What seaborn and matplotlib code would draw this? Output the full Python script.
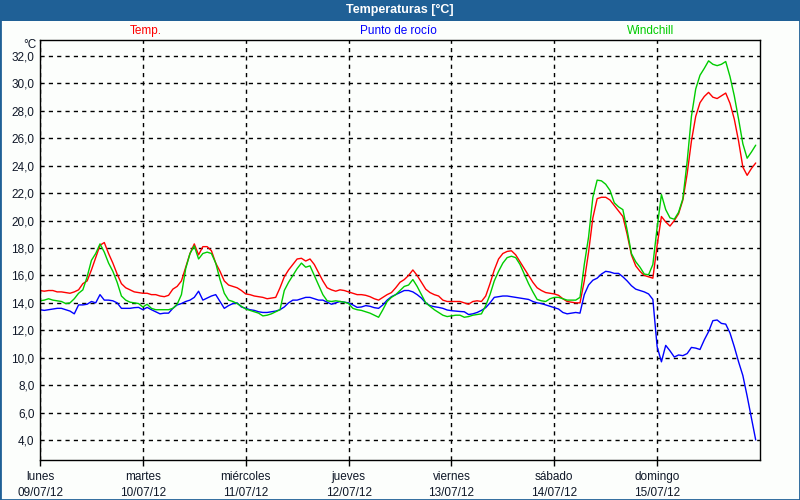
import numpy as np
import pandas as pd
import matplotlib
matplotlib.use("Agg")
import matplotlib.pyplot as plt
from matplotlib.patches import Rectangle
from matplotlib.ticker import FuncFormatter
import seaborn as sns

# datos horarios, lunes 09/07/12 00:00 -> domingo 15/07/12 23:00
temp = [
    14.9, 14.85, 14.9, 14.9, 14.8, 14.8, 14.75, 14.7, 14.8, 14.95, 15.4, 15.6,
    16.4, 17.3, 18.2, 18.4, 17.6, 16.9, 16.1, 15.4, 15.1, 14.95, 14.8, 14.75,
    14.7, 14.7, 14.6, 14.6, 14.5, 14.45, 14.55, 15.0, 15.2, 15.6, 16.6, 17.6,
    18.3, 17.5, 18.1, 18.1, 17.8, 16.9, 16.3, 15.6, 15.3, 15.2, 15.1, 14.9,
    14.65, 14.6, 14.5, 14.45, 14.4, 14.3, 14.35, 14.4, 15.1, 15.9, 16.4, 16.8,
    17.2, 17.25, 17.05, 17.2, 16.8, 16.2, 15.6, 15.1, 14.95, 14.85, 14.95, 14.9,
    14.8, 14.7, 14.6, 14.6, 14.55, 14.45, 14.3, 14.2, 14.4, 14.6, 14.75, 15.1,
    15.5, 15.7, 16.0, 16.4, 16.0, 15.5, 15.0, 14.75, 14.6, 14.5, 14.2, 14.1,
    14.1, 14.1, 14.1, 14.0, 13.9, 14.1, 14.15, 14.1, 14.5, 15.4, 16.4, 17.2,
    17.6, 17.75, 17.8, 17.5, 17.0, 16.5, 16.0, 15.5, 15.1, 14.9, 14.75, 14.7,
    14.65, 14.55, 14.3, 14.1, 14.05, 14.0, 14.0, 15.6, 17.7, 20.2, 21.6, 21.7,
    21.7, 21.5, 21.1, 20.7, 20.3, 19.0, 17.5, 16.7, 16.3, 16.0, 15.9, 15.8,
    18.2, 20.3, 19.9, 19.6, 20.0, 20.5, 21.5, 23.4, 25.8, 27.6, 28.6, 29.05,
    29.35, 29.0, 28.9, 29.1, 29.3, 28.55, 27.4, 25.8, 23.9, 23.3, 23.8, 24.2,
]

rocio = [
    13.5, 13.45, 13.5, 13.55, 13.6, 13.6, 13.5, 13.4, 13.2, 13.85, 13.85, 13.9,
    14.1, 14.0, 14.6, 14.2, 14.2, 14.15, 14.0, 13.6, 13.6, 13.6, 13.65, 13.67,
    13.5, 13.67, 13.5, 13.35, 13.2, 13.25, 13.25, 13.6, 13.85, 13.95, 14.1, 14.2,
    14.4, 14.85, 14.2, 14.35, 14.5, 14.6, 14.1, 13.6, 13.8, 13.95, 14.0, 13.7,
    13.6, 13.5, 13.45, 13.35, 13.3, 13.3, 13.35, 13.4, 13.5, 13.7, 14.0, 14.2,
    14.2, 14.3, 14.4, 14.4, 14.3, 14.2, 14.2, 14.05, 13.9, 14.0, 14.1, 14.05,
    14.0, 13.85, 13.67, 13.7, 13.8, 13.75, 13.65, 13.6, 13.85, 14.2, 14.45, 14.6,
    14.75, 14.9, 14.9, 14.8, 14.6, 14.35, 14.0, 13.8, 13.72, 13.67, 13.6, 13.48,
    13.43, 13.4, 13.37, 13.35, 13.15, 13.2, 13.3, 13.45, 13.65, 14.0, 14.4, 14.45,
    14.5, 14.5, 14.45, 14.4, 14.35, 14.3, 14.25, 14.1, 14.0, 13.95, 13.85, 13.75,
    13.65, 13.55, 13.3, 13.2, 13.25, 13.3, 13.25, 14.6, 15.3, 15.65, 15.8, 16.1,
    16.3, 16.25, 16.15, 16.15, 15.9, 15.6, 15.25, 15.0, 14.9, 14.8, 14.65, 14.25,
    10.8, 9.7, 10.9, 10.5, 10.05, 10.2, 10.15, 10.3, 10.75, 10.7, 10.6, 11.3,
    11.9, 12.7, 12.75, 12.5, 12.45, 11.8, 10.8, 9.7, 8.7, 7.2, 5.6, 4.0,
]

windchill = [
    14.15, 14.2, 14.3, 14.2, 14.15, 14.1, 13.95, 14.0, 14.3, 14.7, 14.95, 15.9,
    17.1, 17.6, 18.3, 17.7, 16.9, 16.3, 15.5, 14.5, 14.2, 14.05, 14.0, 13.95,
    13.7, 13.9, 13.6, 13.5, 13.5, 13.5, 13.5, 13.6, 13.9, 14.6, 16.5, 17.6,
    18.15, 17.2, 17.6, 17.7, 17.6, 16.9, 15.7, 14.7, 14.2, 14.1, 13.95, 13.75,
    13.55, 13.45, 13.35, 13.25, 13.05, 13.1, 13.2, 13.35, 13.5, 14.9, 15.5, 16.0,
    16.5, 16.9, 16.6, 16.7, 16.0, 15.3, 14.6, 14.15, 14.1, 14.15, 14.1, 14.05,
    13.95, 13.6, 13.5, 13.45, 13.35, 13.25, 13.1, 12.95, 13.5, 14.1, 14.4, 14.6,
    14.9, 15.2, 15.3, 15.7, 15.2, 14.6, 14.0, 13.75, 13.5, 13.3, 13.1, 13.0,
    13.05, 13.1, 13.1, 12.95, 13.0, 13.1, 13.15, 13.2, 13.8, 14.6, 15.6, 16.3,
    16.9, 17.3, 17.4, 17.3, 16.8, 16.1, 15.4, 14.8, 14.25, 14.15, 14.1, 14.3,
    14.4, 14.4, 14.3, 14.2, 14.2, 14.2, 14.4, 16.8, 18.8, 21.7, 22.95, 22.9,
    22.65, 22.2, 21.3, 21.0, 20.8, 19.3, 17.6, 17.0, 16.6, 16.1, 16.05, 16.8,
    19.5, 21.9, 20.8, 20.2, 20.1, 20.6, 21.6, 24.3, 27.6, 29.6, 30.6, 31.1,
    31.65, 31.4, 31.3, 31.4, 31.6, 30.5, 29.1, 27.4, 25.6, 24.55, 25.0, 25.5,
]

dias = ["lunes", "martes", "miércoles", "jueves", "viernes", "sábado", "domingo"]
fechas = ["09/07/12", "10/07/12", "11/07/12", "12/07/12", "13/07/12", "14/07/12", "15/07/12"]
series = ["Temp.", "Punto de rocío", "Windchill"]
colores = {"Temp.": "#ff0000", "Punto de rocío": "#0000ff", "Windchill": "#00cc00"}

horas = np.arange(len(temp))
df = pd.concat([
    pd.DataFrame({"hora": horas, "valor": temp, "serie": "Temp."}),
    pd.DataFrame({"hora": horas, "valor": rocio, "serie": "Punto de rocío"}),
    pd.DataFrame({"hora": horas, "valor": windchill, "serie": "Windchill"}),
])

sns.set_style("white")
plt.rcParams["font.family"] = ["Liberation Sans", "DejaVu Sans"]

fondo = "#fcfefc"
azul = "#1f6096"
texto = "#101828"
fig = plt.figure(figsize=(8, 5), dpi=100, facecolor=fondo)
ax = fig.add_axes([40 / 800, 40 / 500, 720 / 800, 420 / 500])
ax.set_facecolor(fondo)

sns.lineplot(data=df, x="hora", y="valor", hue="serie", hue_order=series,
             palette=colores, linewidth=1, legend=False, ax=ax)

ax.set_xlim(0, 168)
ax.set_ylim(2.54, 33.17)
ax.set_yticks(np.arange(4, 33, 2))
ax.yaxis.set_major_formatter(FuncFormatter(lambda v, p: f"{v:.1f}".replace(".", ",")))
ax.set_xticks(np.arange(0, 168, 24))
ax.set_xticklabels([d + "\n" + f for d, f in zip(dias, fechas)], fontsize=8.5, linespacing=1.45)
ax.tick_params(axis="y", length=0, pad=4, labelsize=8.5, labelcolor=texto)
ax.tick_params(axis="x", length=4, width=1, color="black", pad=4, direction="out",
               bottom=True, labelcolor=texto)
ax.set_xlabel("")
ax.set_ylabel("")

ax.grid(True, color="black", linestyle=(0, (3, 3)), linewidth=1)
for s in ax.spines.values():
    s.set_visible(True)
    s.set_color("black")
    s.set_linewidth(1)

# barra de titulo y borde
fig.patches.append(Rectangle((0, 1 - 21 / 500), 1, 21 / 500, transform=fig.transFigure,
                             facecolor=azul, edgecolor="none", zorder=0))
fig.patches.append(Rectangle((0, 0), 1, 1, transform=fig.transFigure, fill=False,
                             edgecolor=azul, linewidth=2, zorder=0))
fig.text(0.5, 1 - 10 / 500, "Temperaturas [°C]", color="white", fontsize=9,
         fontweight="bold", ha="center", va="center")

# leyenda
for nombre, xp in zip(series, [146, 398, 651]):
    fig.text(xp / 800, 1 - 31 / 500, nombre, color=colores[nombre], fontsize=8.5,
             ha="center", va="center")
fig.text(37 / 800, 1 - 45 / 500, "°C", fontsize=8.5, color=texto, ha="right", va="center")

fig.savefig("out.png", dpi=100, facecolor=fondo)
